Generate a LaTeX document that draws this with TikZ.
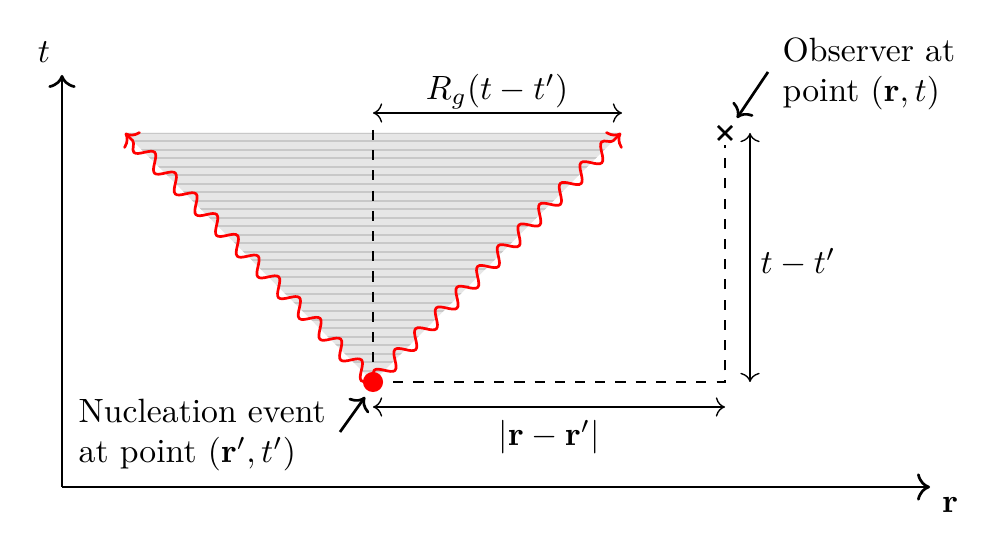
\documentclass[tikz,border=0pt]{standalone}
\usetikzlibrary{decorations.pathmorphing,calc,arrows.meta}
\begin{document}
\begin{tikzpicture}[x=0.01044cm,y=-0.01044cm,
  axis/.style={thick,-{To[scale=1.15]}},
  dim/.style={{To[scale=1.1]}-{To[scale=1.1]}},
  guide/.style={dashed},
  pointer/.style={thick,-{To[scale=1.05]}},
  wave/.style={red,thick,-{To[scale=1.0]},decorate,decoration={snake,amplitude=2.2pt,segment length=8.7pt,post length=3pt}},
  lbl/.style={align=left,inner sep=0pt}]
\useasboundingbox (0,0) rectangle (998,552);
\definecolor{conefill}{HTML}{E6E6E6}
\definecolor{conestripe}{HTML}{C8C8C8}
% coordinates
\coordinate (O) at (62,487);
\coordinate (T) at (62,75);
\coordinate (R) at (930,487);
\coordinate (N) at (373,382);
\coordinate (L) at (125,133);
\coordinate (Rr) at (621,133);
\coordinate (Ob) at (725,133);
\coordinate (C) at (725,382);
\coordinate (Dtop) at (373,130);
\coordinate (Otop) at (725,145);
% axes
\draw[axis] (O) -- (T);
\draw[axis] (O) -- (R);
\node (tl) at (44,52) {$t$};
\node (rl) at (950,505) {$\mathbf{r}$};
% cone
\fill[conefill] (N) -- (L) -- (Rr) -- cycle;
\begin{scope}
\clip (N) -- (L) -- (Rr) -- cycle;
\foreach \yy in {133,141.5,...,382} {\draw[conestripe,line width=0.6pt] (100,\yy) -- (650,\yy);}
\end{scope}
% dashed lines
\draw[guide] (Dtop) -- (N);
\draw[guide] (N) -- (C) -- (Otop);
% waves
\draw[wave] (N) -- (L);
\draw[wave] (N) -- (Rr);
% nucleation point
\node[circle,fill=red,inner sep=0pt,minimum size=0.21cm] (nuc) at (N) {};
% observer cross
\draw[thick] ($(Ob)+(-7,-7)$) -- ($(Ob)+(7,7)$);
\draw[thick] ($(Ob)+(-7,7)$) -- ($(Ob)+(7,-7)$);
% dimension arrows
\coordinate (Ra) at (373,113);
\coordinate (Rb) at (622,113);
\draw[dim] (Ra) -- (Rb);
\node (rg) at (497,92) {$R_g(t-t')$};
\coordinate (Ta) at (750,133);
\coordinate (Tb) at (750,382);
\draw[dim] (Ta) -- (Tb);
\node (tt) at (798,262) {$t-t'$};
\coordinate (Da) at (373,407);
\coordinate (Db) at (725,407);
\draw[dim] (Da) -- (Db);
\node (dr) at (549,437) {$|\mathbf{r}-\mathbf{r}'|$};
% labels
\node[lbl,anchor=north west] (obtext) at (782,37) {Observer at\\point $(\mathbf{r},t)$};
\coordinate (pa) at (768,72);
\coordinate (pb) at (737,118);
\draw[pointer] (pa) -- (pb);
\node[lbl,anchor=north west] (nutext) at (78,398) {Nucleation event\\at point $(\mathbf{r}',t')$};
\coordinate (qa) at (340,432);
\coordinate (qb) at (365,397);
\draw[pointer] (qa) -- (qb);
\end{tikzpicture}
\end{document}
